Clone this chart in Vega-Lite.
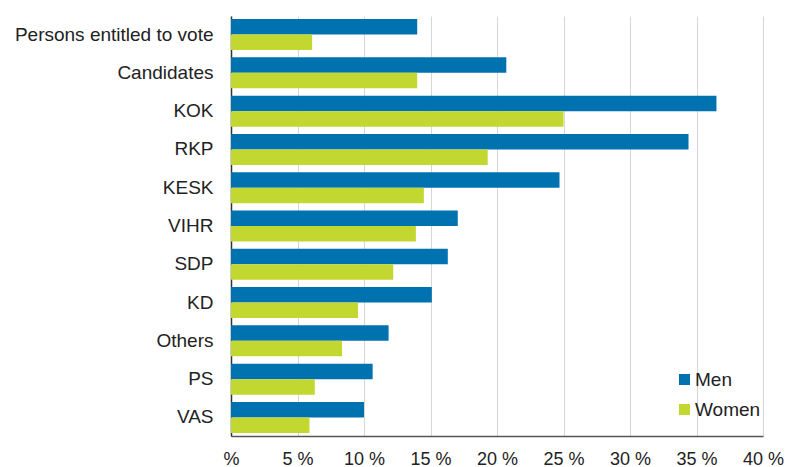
{
  "$schema": "https://vega.github.io/schema/vega-lite/v6.json",
  "autosize": "none",
  "width": 532,
  "height": 420,
  "padding": {"left": 231, "top": 16, "right": 24, "bottom": 31},
  "background": "white",
  "config": {
    "view": {"stroke": null},
    "font": "Liberation Sans"
  },
  "data": {
    "values": [
      {"category": "Persons entitled to vote", "sex": "Men", "value": 14.0},
      {"category": "Persons entitled to vote", "sex": "Women", "value": 6.1},
      {"category": "Candidates", "sex": "Men", "value": 20.7},
      {"category": "Candidates", "sex": "Women", "value": 14.0},
      {"category": "KOK", "sex": "Men", "value": 36.5},
      {"category": "KOK", "sex": "Women", "value": 25.0},
      {"category": "RKP", "sex": "Men", "value": 34.4},
      {"category": "RKP", "sex": "Women", "value": 19.3},
      {"category": "KESK", "sex": "Men", "value": 24.7},
      {"category": "KESK", "sex": "Women", "value": 14.5},
      {"category": "VIHR", "sex": "Men", "value": 17.05},
      {"category": "VIHR", "sex": "Women", "value": 13.9},
      {"category": "SDP", "sex": "Men", "value": 16.3},
      {"category": "SDP", "sex": "Women", "value": 12.2},
      {"category": "KD", "sex": "Men", "value": 15.1},
      {"category": "KD", "sex": "Women", "value": 9.55},
      {"category": "Others", "sex": "Men", "value": 11.85},
      {"category": "Others", "sex": "Women", "value": 8.35},
      {"category": "PS", "sex": "Men", "value": 10.65},
      {"category": "PS", "sex": "Women", "value": 6.3},
      {"category": "VAS", "sex": "Men", "value": 10.0},
      {"category": "VAS", "sex": "Women", "value": 5.9}
    ]
  },
  "mark": {"type": "bar"},
  "encoding": {
    "y": {
      "field": "category",
      "type": "nominal",
      "sort": null,
      "scale": {"paddingInner": 0.19, "paddingOuter": 0.08},
      "axis": {
        "title": null,
        "ticks": false,
        "domainColor": "#333333",
        "domainWidth": 1.5,
        "labelFont": "Liberation Sans",
        "labelFontSize": 19,
        "labelColor": "#222222",
        "labelPadding": 18,
        "labelLimit": 300
      }
    },
    "yOffset": {"field": "sex", "type": "nominal", "sort": ["Men", "Women"]},
    "x": {
      "field": "value",
      "type": "quantitative",
      "scale": {"domain": [0, 40], "nice": false},
      "axis": {
        "title": null,
        "values": [0, 5, 10, 15, 20, 25, 30, 35, 40],
        "labelExpr": "datum.value == 0 ? '%' : datum.value + ' %'",
        "ticks": false,
        "grid": true,
        "gridColor": "#d6d6d6",
        "gridWidth": 1,
        "domainColor": "#555555",
        "domainWidth": 1.5,
        "labelFont": "Liberation Sans",
        "labelFontSize": 18,
        "labelColor": "#222222",
        "labelPadding": 14,
        "labelFlush": false
      }
    },
    "color": {
      "field": "sex",
      "type": "nominal",
      "sort": ["Men", "Women"],
      "scale": {"domain": ["Men", "Women"], "range": ["#0072B0", "#C2D72F"]},
      "legend": {
        "title": null,
        "orient": "none",
        "legendX": 444,
        "legendY": 354,
        "symbolType": "square",
        "symbolSize": 121,
        "symbolOpacity": 1,
        "symbolStrokeWidth": 0,
        "labelFont": "Liberation Sans",
        "labelFontSize": 19,
        "labelColor": "#222222",
        "labelOffset": 1,
        "rowPadding": 10,
        "padding": 0
      }
    }
  }
}
